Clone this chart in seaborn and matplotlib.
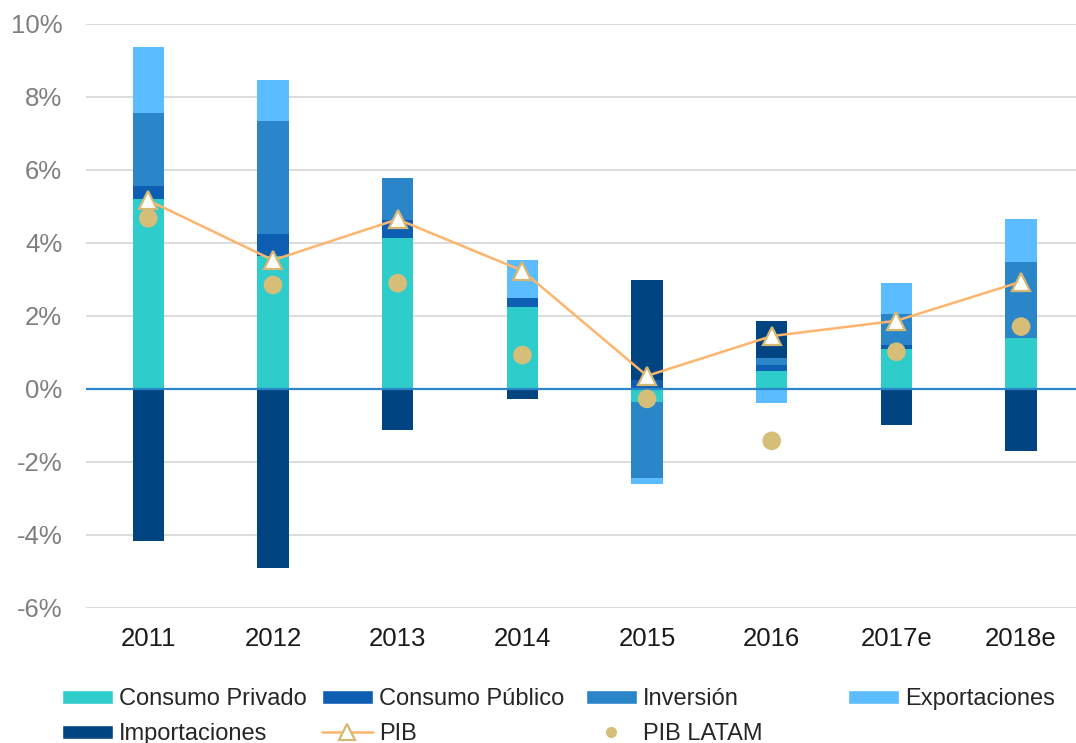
import numpy as np
import pandas as pd
import matplotlib
matplotlib.use("Agg")
import matplotlib.pyplot as plt
import seaborn as sns
from matplotlib.patches import Patch
from matplotlib.lines import Line2D

# data (contribuciones al crecimiento, %)
years = ["2011", "2012", "2013", "2014", "2015", "2016", "2017e", "2018e"]
consumo_privado = [5.20, 3.65, 4.15, 2.25, -0.36, 0.50, 1.10, 1.41]
consumo_publico = [0.37, 0.60, 0.48, 0.25, 0.25, 0.17, 0.11, 0.00]
inversion = [2.00, 3.10, 1.16, 0.00, -2.09, 0.17, 0.84, 2.08]
exportaciones = [1.81, 1.12, 0.00, 1.03, -0.16, -0.39, 0.85, 1.17]
importaciones = [-4.16, -4.90, -1.12, -0.28, 2.74, 1.02, -1.00, -1.69]
pib = [5.17, 3.53, 4.65, 3.24, 0.36, 1.45, 1.87, 2.94]
pib_latam = [4.68, 2.85, 2.90, 0.93, -0.27, -1.42, 1.02, 1.71]

names = ["Consumo Privado", "Consumo Público", "Inversión", "Exportaciones", "Importaciones"]
colors = ["#2ECDCB", "#0E5FB4", "#2B86C9", "#5BBDFF", "#004481"]
series = [consumo_privado, consumo_publico, inversion, exportaciones, importaciones]

sns.set_style("white")
plt.rcParams["font.family"] = ["Liberation Sans", "DejaVu Sans"]

fig = plt.figure(figsize=(10.76, 7.43), dpi=100)
ax = fig.add_axes([0.0799, 0.1817, 0.927, 0.786])

#stacked bars: positives up, negatives down
pos_base = np.zeros(len(years))
neg_base = np.zeros(len(years))
for name, col, vals in zip(names, colors, series):
    v = np.array(vals)
    bottom = np.where(v >= 0, pos_base, neg_base)
    df = pd.DataFrame({"year": years, "val": v})
    sns.barplot(data=df, x="year", y="val", color=col, saturation=1, width=0.25,
                bottom=bottom, linewidth=0, ax=ax, zorder=2)
    pos_base = pos_base + np.where(v > 0, v, 0)
    neg_base = neg_base + np.where(v < 0, v, 0)

idx = np.arange(len(years))
ax.plot(idx, pib, color="#FDB56D", linewidth=1.8, zorder=3)
ax.plot(idx, pib, linestyle="none", marker="^", markersize=13,
        markerfacecolor="white", markeredgecolor="#D6B872",
        markeredgewidth=1.6, zorder=4)
sns.scatterplot(x=idx, y=pib_latam, s=180, color="#D6BE78",
                edgecolor="none", ax=ax, zorder=5)

ax.set_ylim(-6, 10)
ax.set_xlim(-0.5, len(years) - 0.5)
ax.set_yticks(np.arange(-6, 11, 2))
ax.set_yticklabels([f"{t}%" for t in range(-6, 11, 2)])
ax.yaxis.grid(True, color="#D9D9D9", linewidth=1.3, zorder=0)
ax.set_axisbelow(True)
ax.axhline(0, color="#2B86C9", linewidth=1.6, zorder=3)
ax.tick_params(axis="y", length=0, pad=17, labelsize=18.5, labelcolor="#7F7F7F")
ax.tick_params(axis="x", length=0, pad=14, labelsize=18.5, labelcolor="#1A1A1A")
ax.set_xlabel("")
ax.set_ylabel("")
for s in ax.spines.values():
    s.set_visible(False)

# legend, four columns placed like the original
h_cp = Patch(facecolor=colors[0])
h_cpub = Patch(facecolor=colors[1])
h_inv = Patch(facecolor=colors[2])
h_exp = Patch(facecolor=colors[3])
h_imp = Patch(facecolor=colors[4])
h_pib = Line2D([], [], color="#FDB56D", linewidth=1.8, marker="^", markersize=11,
               markerfacecolor="white", markeredgecolor="#D6B872", markeredgewidth=1.6)
h_lat = Line2D([], [], linestyle="none", marker="o", markersize=8,
               markerfacecolor="#D6BE78", markeredgecolor="none")
cols = [
    ([h_cp, h_imp], ["Consumo Privado", "Importaciones"], 62),
    ([h_cpub, h_pib], ["Consumo Público", "PIB"], 322),
    ([h_inv, h_lat], ["Inversión", "PIB LATAM"], 586),
    ([h_exp], ["Exportaciones"], 848),
]
for hs, ls, x in cols:
    leg = fig.legend(hs, ls, loc="upper left", bbox_to_anchor=(x / 1076, 1 - 688 / 743),
                     frameon=False, fontsize=17, borderpad=0, borderaxespad=0,
                     handlelength=2.15, handleheight=0.55, handletextpad=0.25,
                     labelspacing=0.55)

fig.savefig("out.png", dpi=100)
